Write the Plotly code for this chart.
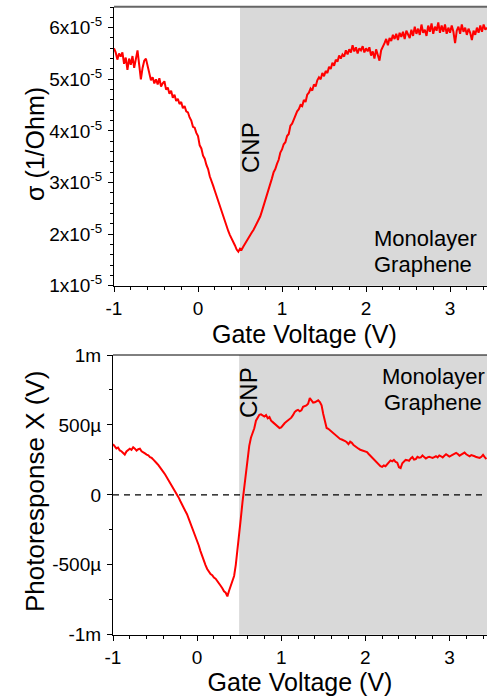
import plotly.graph_objects as go

# ---- data -------------------------------------------------------------
gate_v = [
    -1.00, -0.98, -0.96, -0.94, -0.92, -0.90, -0.88, -0.86, -0.84, -0.82,
    -0.80, -0.78, -0.76, -0.74, -0.72, -0.70, -0.68, -0.66, -0.64, -0.62,
    -0.60, -0.58, -0.56, -0.54, -0.52, -0.50, -0.48, -0.46, -0.44, -0.42,
    -0.40, -0.38, -0.36, -0.34, -0.32, -0.30, -0.28, -0.26, -0.24, -0.22,
    -0.20, -0.18, -0.16, -0.14, -0.12, -0.10, -0.08, -0.06, -0.04, -0.02,
    0.00, 0.02, 0.04, 0.06, 0.08, 0.10, 0.12, 0.14, 0.16, 0.18,
    0.20, 0.22, 0.24, 0.26, 0.28, 0.30, 0.32, 0.34, 0.36, 0.38,
    0.40, 0.42, 0.44, 0.46, 0.48, 0.50, 0.52, 0.54, 0.56, 0.58,
    0.60, 0.62, 0.64, 0.66, 0.68, 0.70, 0.72, 0.74, 0.76, 0.78,
    0.80, 0.82, 0.84, 0.86, 0.88, 0.90, 0.92, 0.94, 0.96, 0.98,
    1.00, 1.02, 1.04, 1.06, 1.08, 1.10, 1.12, 1.14, 1.16, 1.18,
    1.20, 1.22, 1.24, 1.26, 1.28, 1.30, 1.32, 1.34, 1.36, 1.38,
    1.40, 1.42, 1.44, 1.46, 1.48, 1.50, 1.52, 1.54, 1.56, 1.58,
    1.60, 1.62, 1.64, 1.66, 1.68, 1.70, 1.72, 1.74, 1.76, 1.78,
    1.80, 1.82, 1.84, 1.86, 1.88, 1.90, 1.92, 1.94, 1.96, 1.98,
    2.00, 2.02, 2.04, 2.06, 2.08, 2.10, 2.12, 2.14, 2.16, 2.18,
    2.20, 2.22, 2.24, 2.26, 2.28, 2.30, 2.32, 2.34, 2.36, 2.38,
    2.40, 2.42, 2.44, 2.46, 2.48, 2.50, 2.52, 2.54, 2.56, 2.58,
    2.60, 2.62, 2.64, 2.66, 2.68, 2.70, 2.72, 2.74, 2.76, 2.78,
    2.80, 2.82, 2.84, 2.86, 2.88, 2.90, 2.92, 2.94, 2.96, 2.98,
    3.00, 3.02, 3.04, 3.06, 3.08, 3.10, 3.12, 3.14, 3.16, 3.18,
    3.20, 3.22, 3.24, 3.26, 3.28, 3.30, 3.32, 3.34, 3.36, 3.38,
    3.40, 3.42, 3.44,
]

# conductivity, in units of 1e-5 1/Ohm
sigma_e5 = [
    5.60, 5.52, 5.38, 5.50, 5.44, 5.52, 5.30, 5.42, 5.18, 5.40,
    5.28, 5.45, 5.22, 5.38, 5.56, 5.28, 5.00, 5.22, 5.36, 5.40,
    5.24, 5.12, 4.98, 5.04, 4.92, 5.00, 4.90, 5.02, 4.86, 4.92,
    4.96, 4.80, 4.84, 4.72, 4.78, 4.64, 4.70, 4.58, 4.62, 4.52,
    4.56, 4.44, 4.48, 4.38, 4.36, 4.26, 4.20, 4.08, 4.06, 3.96,
    3.90, 3.72, 3.66, 3.52, 3.46, 3.34, 3.26, 3.12, 3.04, 2.94,
    2.84, 2.74, 2.62, 2.53, 2.42, 2.33, 2.22, 2.14, 2.06, 1.98,
    1.92, 1.86, 1.78, 1.70, 1.66, 1.72, 1.70, 1.76, 1.82, 1.88,
    1.93, 1.98, 2.03, 2.08, 2.14, 2.20, 2.26, 2.34, 2.44, 2.54,
    2.64, 2.76, 2.86, 2.98, 3.08, 3.20, 3.26, 3.36, 3.44, 3.58,
    3.64, 3.74, 3.78, 3.90, 3.94, 4.10, 4.14, 4.22, 4.30, 4.38,
    4.42, 4.50, 4.48, 4.60, 4.56, 4.70, 4.74, 4.82, 4.78, 4.90,
    4.86, 4.98, 5.04, 5.00, 5.12, 5.06, 5.16, 5.12, 5.24, 5.20,
    5.32, 5.26, 5.38, 5.34, 5.46, 5.40, 5.48, 5.44, 5.56, 5.48,
    5.58, 5.52, 5.66, 5.54, 5.62, 5.50, 5.60, 5.56, 5.64, 5.52,
    5.60, 5.54, 5.62, 5.46, 5.54, 5.40, 5.58, 5.44, 5.36, 5.56,
    5.62, 5.70, 5.78, 5.66, 5.80, 5.74, 5.86, 5.78, 5.88, 5.76,
    5.90, 5.82, 5.92, 5.78, 5.94, 5.86, 5.80, 5.96, 5.84, 6.02,
    5.88, 5.98, 5.86, 6.06, 5.90, 5.96, 5.84, 6.04, 5.92, 6.08,
    5.88, 6.02, 5.94, 6.10, 5.90, 6.04, 5.92, 6.06, 5.88, 6.00,
    5.90, 6.04, 5.92, 5.70, 5.94, 6.02, 5.88, 6.06, 5.92, 6.00,
    5.86, 5.98, 5.90, 5.76, 5.94, 5.86, 6.00, 5.90, 6.04, 5.92,
    6.06, 5.96, 6.00,
]

# photoresponse X, in microvolts
photo_uv = [
    362, 350, 332, 338, 318, 312, 300, 288, 310, 318,
    330, 322, 340, 330, 316, 326, 330, 312, 306, 296,
    288, 282, 270, 264, 252, 242, 226, 212, 198, 180,
    162, 146, 126, 108, 88, 66, 46, 24, 2, -18,
    -44, -70, -100, -116, -138, -170, -198, -226, -256, -288,
    -322, -362, -402, -440, -474, -502, -530, -548, -566, -574,
    -592, -600, -620, -632, -650, -668, -690, -700, -726, -686,
    -652, -620, -580, -500, -400, -290, -168, -50, 52, 160,
    262, 350, 408, 440, 476, 530, 556, 572, 576, 566,
    560, 570, 548, 556, 530, 520, 510, 500, 490, 478,
    482, 500, 512, 522, 530, 540, 552, 570, 592, 602,
    608, 598, 604, 630, 636, 640, 652, 692, 676, 660,
    662, 672, 676, 664, 640, 578, 520, 478, 472, 462,
    455, 444, 430, 418, 410, 400, 396, 392, 385, 376,
    362, 380, 372, 356, 345, 336, 330, 322, 318, 314,
    310, 306, 292, 280, 262, 250, 240, 226, 215, 205,
    200, 210, 205, 218, 228, 246, 240, 250, 236, 230,
    198, 192, 226, 240, 250, 248, 244, 260, 270, 252,
    256, 272, 266, 268, 282, 270, 260, 268, 272, 268,
    264, 270, 276, 268, 282, 276, 268, 280, 290, 282,
    274, 280, 286, 294, 300, 292, 280, 288, 296, 302,
    290, 282, 276, 284, 282, 276, 270, 268, 264, 272,
    286, 270, 256,
]

cnp_v = 0.5
x_range_top = [-1.0, 3.44]
x_range_bottom = [-1.0, 3.447]

x_ticks = [-1, 0, 1, 2, 3]
x_ticktext = ["-1", "0", "1", "2", "3"]
sigma_ticks = [1e-5, 2e-5, 3e-5, 4e-5, 5e-5, 6e-5]
sigma_ticktext = ["%dx10<sup>-5</sup>" % k for k in range(1, 7)]
photo_ticks = [-1e-3, -5e-4, 0, 5e-4, 1e-3]
photo_ticktext = ["-1m", "-500\u00b5", "0", "500\u00b5", "1m"]

# ---- layout helpers -----------------------------------------------------
W, H = 487, 697
FONT = "Liberation Sans, Arial, sans-serif"


def px_x(p):
    return p / W


def px_y(p):
    return 1 - p / H


sigma = [v * 1e-5 for v in sigma_e5]
photo = [v * 1e-6 for v in photo_uv]

fig = go.Figure()
fig.add_trace(go.Scatter(x=gate_v, y=sigma, mode="lines",
                         line=dict(color="#ff0000", width=2),
                         xaxis="x", yaxis="y", showlegend=False))
fig.add_trace(go.Scatter(x=gate_v, y=photo, mode="lines",
                         line=dict(color="#ff0000", width=2),
                         xaxis="x2", yaxis="y2", showlegend=False))

axis_common = dict(showline=True, linecolor="black", linewidth=1,
                   ticks="outside", ticklen=5, tickwidth=1, tickcolor="black",
                   showgrid=False, zeroline=False, automargin=False,
                   tickfont=dict(family=FONT, size=19, color="black"))


def minor(dtick, tick0):
    return dict(dtick=dtick, tick0=tick0, ticks="outside", ticklen=3,
                tickcolor="black", showgrid=False)


fig.update_layout(
    width=W, height=H,
    margin=dict(l=0, r=0, t=0, b=0),
    paper_bgcolor="white", plot_bgcolor="white",
    xaxis=dict(domain=[px_x(114), 1], range=x_range_top, anchor="y",
               tickvals=x_ticks, ticktext=x_ticktext,
               minor=minor(0.2, -1), **axis_common),
    yaxis=dict(domain=[px_y(285.7), px_y(7)], range=[1e-5, 6.4e-5], anchor="x",
               tickvals=sigma_ticks, ticktext=sigma_ticktext,
               ticklabelstandoff=2,
               minor=minor(0.2e-5, 1e-5), **axis_common),
    xaxis2=dict(domain=[px_x(113), 1], range=x_range_bottom, anchor="y2",
                tickvals=x_ticks, ticktext=x_ticktext,
                title=dict(text="Gate Voltage (V)", standoff=5,
                           font=dict(family=FONT, size=25, color="black")),
                minor=minor(0.2, -1), **axis_common),
    yaxis2=dict(domain=[px_y(634.7), px_y(355)], range=[-1e-3, 1e-3], anchor="x2",
                tickvals=photo_ticks, ticktext=photo_ticktext,
                ticklabelstandoff=2,
                minor=minor(2.5e-4, -1e-3), **axis_common),
)

# shaded region beyond the charge neutrality point, frame tops, zero line
shade = "#d9d9d9"
fig.add_shape(type="rect", xref="x", yref="y domain", x0=cnp_v, x1=x_range_top[1],
              y0=0, y1=1, fillcolor=shade, line=dict(width=0), layer="below")
fig.add_shape(type="rect", xref="x2", yref="y2 domain", x0=cnp_v, x1=x_range_bottom[1],
              y0=0, y1=1, fillcolor=shade, line=dict(width=0), layer="below")
fig.add_shape(type="line", xref="paper", yref="paper",
              x0=px_x(114), x1=1, y0=px_y(6.7), y1=px_y(6.7),
              line=dict(color="#666666", width=2))
fig.add_shape(type="line", xref="paper", yref="paper",
              x0=px_x(113), x1=1, y0=px_y(355), y1=px_y(355),
              line=dict(color="black", width=1))
fig.add_shape(type="line", xref="x2 domain", yref="y2", x0=0, x1=1, y0=0, y1=0,
              line=dict(color="black", width=1.2, dash="6px,5px"))


def label(text, x, y, size, angle=0):
    fig.add_annotation(text=text, x=px_x(x), y=px_y(y), xref="paper", yref="paper",
                       showarrow=False, textangle=angle,
                       xanchor="center", yanchor="middle",
                       font=dict(family=FONT, size=size, color="black"))


# axis titles
label("Gate Voltage (V)", 304, 334, 25)
label("\u03c3 (1/Ohm)", 35, 144, 25, angle=-90)
label("Photoresponse X (V)", 35, 492, 26, angle=-90)

# in-plot labels
label("CNP", 250, 147, 24, angle=-90)
label("CNP", 248, 393, 24, angle=-90)
label("Monolayer", 425, 238, 22)
label("Graphene", 423, 264, 22)
label("Monolayer", 433, 376, 22)
label("Graphene", 433, 402, 22)

fig.write_html("out.html")
